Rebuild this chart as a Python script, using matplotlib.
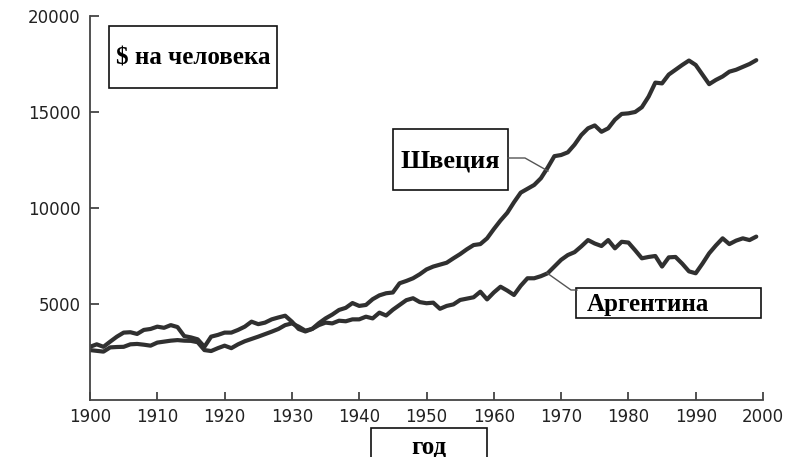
import matplotlib
matplotlib.use("Agg")
import matplotlib.pyplot as plt
from matplotlib.patches import Rectangle
from matplotlib.lines import Line2D

years = list(range(1900, 2000))

sweden = [2600, 2560, 2520, 2740, 2760, 2770, 2900, 2920, 2880, 2830,
          2990, 3040, 3090, 3120, 3090, 3080, 3010, 2600, 2550, 2700,
          2830, 2700, 2900, 3060, 3180, 3300, 3430, 3560, 3700, 3900,
          3990, 3820, 3610, 3700, 4000, 4250, 4450, 4690, 4800, 5050,
          4900, 4950, 5250, 5450, 5560, 5600, 6080, 6200, 6340, 6550,
          6800, 6950, 7050, 7150, 7380, 7600, 7850, 8070, 8120, 8420,
          8900, 9350, 9750, 10300, 10800, 11000, 11200, 11550, 12100, 12700,
          12760, 12900, 13300, 13800, 14150, 14300, 13970, 14150, 14600, 14900,
          14930, 15000, 15250, 15800, 16530, 16490, 16950, 17200, 17450, 17680,
          17450, 16950, 16450, 16670, 16850, 17100, 17200, 17350, 17500, 17700]

argentina = [2770, 2900, 2770, 3040, 3300, 3510, 3530, 3440, 3650, 3700,
             3820, 3760, 3900, 3800, 3330, 3260, 3160, 2770, 3300, 3390,
             3510, 3510, 3650, 3820, 4080, 3950, 4030, 4200, 4300, 4390,
             4080, 3700, 3570, 3700, 3900, 4030, 3990, 4130, 4100, 4200,
             4200, 4340, 4250, 4550, 4400, 4700, 4950, 5200, 5300, 5100,
             5040, 5070, 4750, 4900, 4980, 5210, 5280, 5350, 5640, 5240,
             5600, 5900, 5700, 5470, 5950, 6340, 6340, 6450, 6600, 6950,
             7300, 7550, 7700, 8000, 8330, 8150, 8020, 8330, 7900, 8240,
             8200, 7800, 7380, 7450, 7500, 6950, 7430, 7450, 7100, 6700,
             6600, 7100, 7640, 8050, 8420, 8120, 8300, 8420, 8330, 8510]

xticks = list(range(1900, 2001, 10))
yticks = [5000, 10000, 15000, 20000]

label_y = "$ на человека"
label_x = "год"
label_se = "Швеция"
label_ar = "Аргентина"

W, H = 800, 457
fig = plt.figure(figsize=(W / 100, H / 100), dpi=100)
ax = fig.add_axes([90 / W, 1 - 400 / H, (763 - 90) / W, (400 - 16) / H])

line_color = "#303030"
ax.plot(years, sweden, color=line_color, lw=3.0, solid_joinstyle="round", solid_capstyle="round")
ax.plot(years, argentina, color=line_color, lw=3.0, solid_joinstyle="round", solid_capstyle="round")

ax.set_xlim(1900, 2000)
ax.set_ylim(0, 20000)
ax.set_xticks(xticks)
ax.set_yticks(yticks)
for s in ["top", "right"]:
    ax.spines[s].set_visible(False)
for s in ["left", "bottom"]:
    ax.spines[s].set_color("#444444")
    ax.spines[s].set_linewidth(1.3)
ax.tick_params(axis="both", direction="in", colors="#444444", width=1.3,
               labelsize=12, labelcolor="#222222")
ax.tick_params(axis="x", length=5.5, pad=6)
ax.tick_params(axis="y", length=6.5, pad=7)
ax.patch.set_alpha(0)


def fx(px):
    return px / W


def fy(py):
    return 1 - py / H


def box(x0, y0, x1, y1, text, size, tx=None, ty=None):
    r = Rectangle((fx(x0), fy(y1)), fx(x1) - fx(x0), fy(y0) - fy(y1),
                  transform=fig.transFigure, fill=True, facecolor="white",
                  edgecolor="#111111", lw=1.2, clip_on=False)
    fig.add_artist(r)
    if tx is None:
        tx = (x0 + x1) / 2
    if ty is None:
        ty = (y0 + y1) / 2
    fig.text(fx(tx), fy(ty), text, ha="center", va="center", fontsize=size,
             fontweight="bold", family=["Liberation Serif", "DejaVu Serif"],
             color="black")


def connector(pts):
    xs = [fx(p[0]) for p in pts]
    ys = [fy(p[1]) for p in pts]
    fig.add_artist(Line2D(xs, ys, transform=fig.transFigure, color="#555555", lw=1.0))


connector([(508, 158), (525, 158), (548, 171)])
connector([(577, 290), (571, 290), (547, 273)])

box(109, 26, 277, 88, label_y, 18, ty=58)
box(393, 129, 508, 190, label_se, 19, ty=161)
box(576, 288, 761, 318, label_ar, 18, tx=648, ty=304)
box(371, 428, 487, 470, label_x, 18, tx=429, ty=447)

fig.savefig("out.png", dpi=100)
